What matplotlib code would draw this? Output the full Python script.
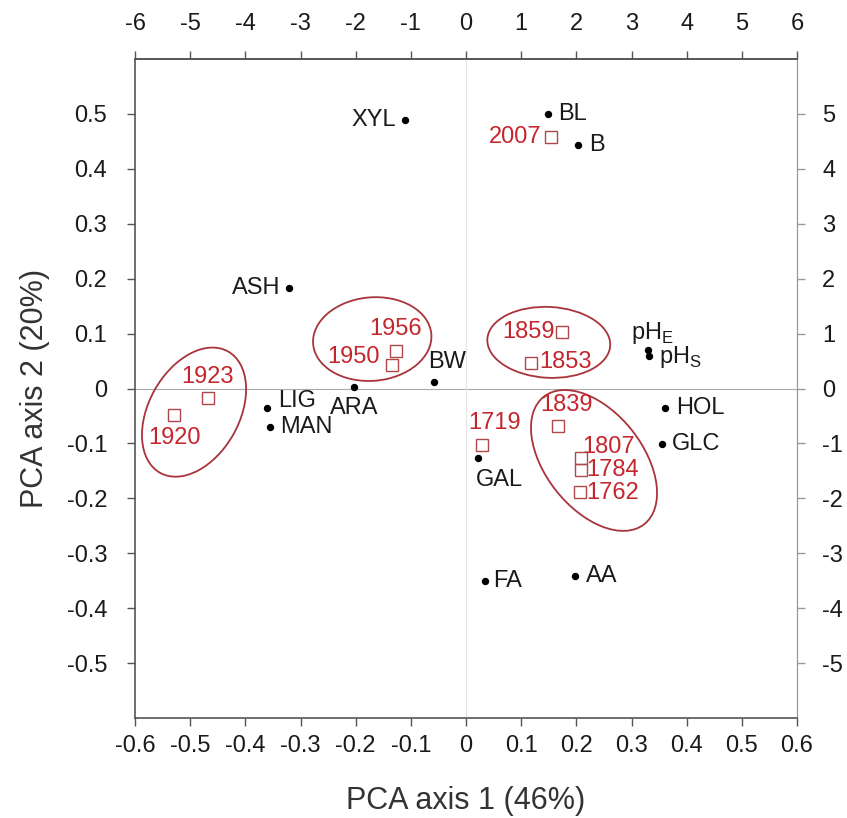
import numpy as np
import matplotlib.pyplot as plt
from matplotlib.patches import Ellipse

plt.rcParams['font.family'] = ['Liberation Sans', 'DejaVu Sans']
plt.rcParams['axes.unicode_minus'] = False
plt.rcParams['mathtext.fontset'] = 'custom'
plt.rcParams['mathtext.rm'] = 'Liberation Sans'

# variables (black dots)
var_names = ['XYL', 'BL', 'B', 'ASH', 'pHE', 'pHS', 'BW', 'ARA', 'LIG', 'MAN',
             'HOL', 'GLC', 'GAL', 'FA', 'AA']
var_x = [-0.111, 0.149, 0.203, -0.321, 0.330, 0.332, -0.058, -0.203, -0.361, -0.355,
         0.361, 0.355, 0.022, 0.034, 0.198]
var_y = [0.489, 0.500, 0.443, 0.183, 0.070, 0.059, 0.012, 0.003, -0.036, -0.070,
         -0.036, -0.101, -0.127, -0.351, -0.341]

# samples (red squares)
year_names = ['2007', '1956', '1950', '1859', '1853', '1923', '1920', '1719',
              '1839', '1807', '1784', '1762']
year_x = [0.154, -0.127, -0.134, 0.174, 0.118, -0.468, -0.529, 0.029,
          0.167, 0.208, 0.208, 0.207]
year_y = [0.458, 0.068, 0.043, 0.103, 0.046, -0.017, -0.048, -0.103,
          -0.068, -0.127, -0.148, -0.188]

# groups (ellipses): centre x, centre y, width, height, angle
grp_cx = [-0.493, -0.170, 0.150, 0.232]
grp_cy = [-0.043, 0.090, 0.084, -0.131]
grp_w = [0.253, 0.215, 0.223, 0.295]
grp_h = [0.164, 0.152, 0.129, 0.176]
grp_ang = [61, 5, -3, -52]

# label placement: (dx, dy) in points, ha
var_lab = {
    'XYL': (-6, 0, 'right'), 'BL': (7, 0, 'left'), 'B': (8, 0, 'left'),
    'ASH': (-6, 0, 'right'), 'pHE': (-12, 12, 'left'), 'pHS': (7, -1, 'left'),
    'BW': (-4, 14, 'left'), 'ARA': (0, -15, 'center'), 'LIG': (8, 5, 'left'),
    'MAN': (7, 0, 'left'), 'HOL': (8, 0, 'left'), 'GLC': (7, 0, 'left'),
    'GAL': (-2, -16, 'left'), 'FA': (6, 0, 'left'), 'AA': (8, 0, 'left'),
}
year_lab = {
    '2007': (-7, 0, 'right'), '1956': (19, 16, 'right'), '1950': (-9, 6, 'right'),
    '1859': (-5, 0, 'right'), '1853': (6, 1, 'left'), '1923': (0, 15, 'center'),
    '1920': (0, -17, 'center'), '1719': (9, 16, 'center'), '1839': (6, 15, 'center'),
    '1807': (1, 8, 'left'), '1784': (4, 0, 'left'), '1762': (4, -1, 'left'),
}
var_text = {'pHE': r'pH$_\mathregular{E}$', 'pHS': r'pH$_\mathregular{S}$'}

red_txt = '#c4262e'
red_edge = '#b0474b'
ell_col = '#a8343a'
spine_col = '#555555'

fig = plt.figure(figsize=(8.47, 8.18), dpi=100)
ax = fig.add_axes([0.1594, 0.1222, 0.7816, 0.8057])

ax.axhline(0, color='#aaaaaa', lw=0.8, zorder=0)
ax.axvline(0, color='#e6e6e6', lw=0.8, zorder=0)

for cx, cy, w, h, a in zip(grp_cx, grp_cy, grp_w, grp_h, grp_ang):
    ax.add_patch(Ellipse((cx, cy), w, h, angle=a, fill=False, ec=ell_col, lw=1.3))

ax.plot(var_x, var_y, 'o', color='black', ms=4.3, zorder=3)
ax.plot(year_x, year_y, 's', mfc='none', mec=red_edge, ms=8, mew=1.0, zorder=3)

for n, x, y in zip(var_names, var_x, var_y):
    dx, dy, ha = var_lab[n]
    ax.annotate(var_text.get(n, n), (x, y), xytext=(dx, dy), textcoords='offset points',
                ha=ha, va='center', fontsize=17, color='#1a1a1a')

for n, x, y in zip(year_names, year_x, year_y):
    dx, dy, ha = year_lab[n]
    ax.annotate(n, (x, y), xytext=(dx, dy), textcoords='offset points',
                ha=ha, va='center', fontsize=17, color=red_txt)

ax.set_xlim(-0.6, 0.6)
ax.set_ylim(-0.6, 0.6)
ax.set_xticks(np.arange(-6, 7) / 10)
ax.set_yticks(np.arange(-5, 6) / 10)
fmt = lambda v, p: f'{v:g}'
ax.xaxis.set_major_formatter(plt.FuncFormatter(fmt))
ax.yaxis.set_major_formatter(plt.FuncFormatter(fmt))
ax.tick_params(direction='out', length=6, width=1, color=spine_col,
               labelsize=17, labelcolor='#1a1a1a', pad=6)
ax.tick_params(axis='y', pad=14)

top = ax.secondary_xaxis('top', functions=(lambda x: x * 10, lambda x: x / 10))
top.set_xticks(np.arange(-6, 7))
top.xaxis.set_major_formatter(plt.FuncFormatter(fmt))
top.tick_params(direction='out', length=6, width=1, color=spine_col,
                labelsize=17, labelcolor='#1a1a1a', pad=11)
right = ax.secondary_yaxis('right', functions=(lambda y: y * 10, lambda y: y / 10))
right.set_yticks(np.arange(-5, 6))
right.yaxis.set_major_formatter(plt.FuncFormatter(fmt))
right.tick_params(direction='out', length=6, width=1, color='#999999',
                  labelsize=17, labelcolor='#1a1a1a', pad=12)

for s in ['left', 'bottom', 'top']:
    ax.spines[s].set_color(spine_col)
    ax.spines[s].set_linewidth(1.2)
ax.spines['right'].set_color('#999999')
top.spines['top'].set_color(spine_col)
top.spines['top'].set_linewidth(1.2)
right.spines['right'].set_color('#999999')

ax.set_xlabel('PCA axis 1 (46%)', fontsize=22, color='#333333', labelpad=21)
ax.set_ylabel('PCA axis 2 (20%)', fontsize=22, color='#333333', labelpad=12)

fig.savefig('out.png', dpi=100)
